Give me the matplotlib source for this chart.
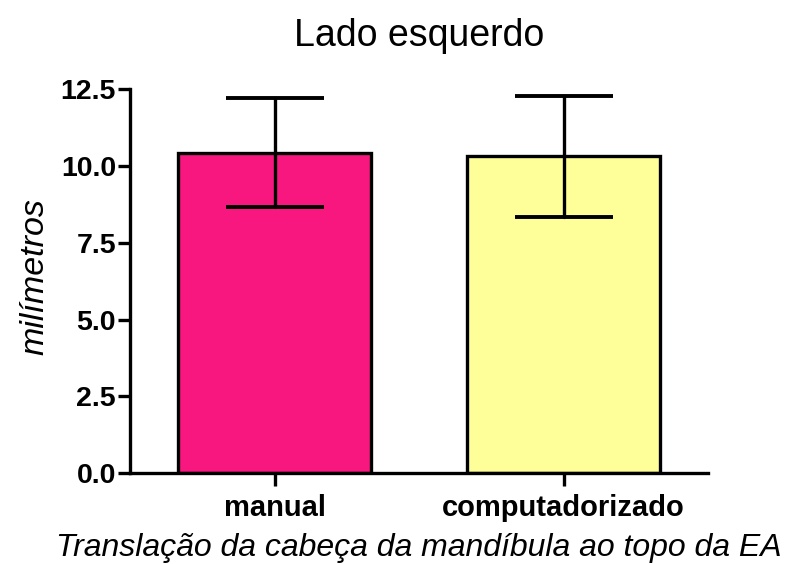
import matplotlib.pyplot as plt

plt.rcParams['font.family'] = ['Liberation Sans', 'DejaVu Sans']

# Translação da cabeça da mandíbula ao topo da EA, lado esquerdo
metodos = ['manual', 'computadorizado']
medias = [10.44, 10.32]
desvios = [1.77, 1.97]
cores = ['#F7177F', '#FFFF99']

fig = plt.figure(figsize=(7.85, 5.64), dpi=100)
ax = fig.add_axes([0.1656, 0.1613, 0.7364, 0.6804])

pos = range(len(metodos))
ax.bar(pos, medias, width=0.667, color=cores, edgecolor='black', linewidth=2.4, zorder=2)
err = ax.errorbar(pos, medias, yerr=desvios, fmt='none', ecolor='black', elinewidth=2.4,
                  capsize=35, capthick=2.8, zorder=3)
for col in err.lines[2]:
    col.set_capstyle('round')

ax.set_xlim(-0.5, 1.5)
ax.set_ylim(0, 12.5)
ax.set_yticks([0, 2.5, 5.0, 7.5, 10.0, 12.5])
ax.set_yticklabels(['0.0', '2.5', '5.0', '7.5', '10.0', '12.5'])
ax.set_xticks(list(pos))
ax.set_xticklabels(metodos)

for s in ['top', 'right']:
    ax.spines[s].set_visible(False)
for s in ['left', 'bottom']:
    ax.spines[s].set_linewidth(2.4)

ax.tick_params(axis='both', width=2.4, length=9)
ax.tick_params(axis='y', pad=1, labelsize=20.5)
ax.tick_params(axis='x', pad=6, labelsize=21)
for lbl in ax.get_xticklabels() + ax.get_yticklabels():
    lbl.set_fontweight('bold')

ax.set_title('Lado esquerdo', fontsize=27, pad=31)
ax.set_ylabel('milímetros', fontsize=24.5, style='italic', labelpad=11)
ax.yaxis.set_label_coords(-0.138, 0.513)
ax.set_xlabel('Translação da cabeça da mandíbula ao topo da EA', fontsize=23,
              style='italic', labelpad=8)

fig.savefig('out.png', dpi=100)
